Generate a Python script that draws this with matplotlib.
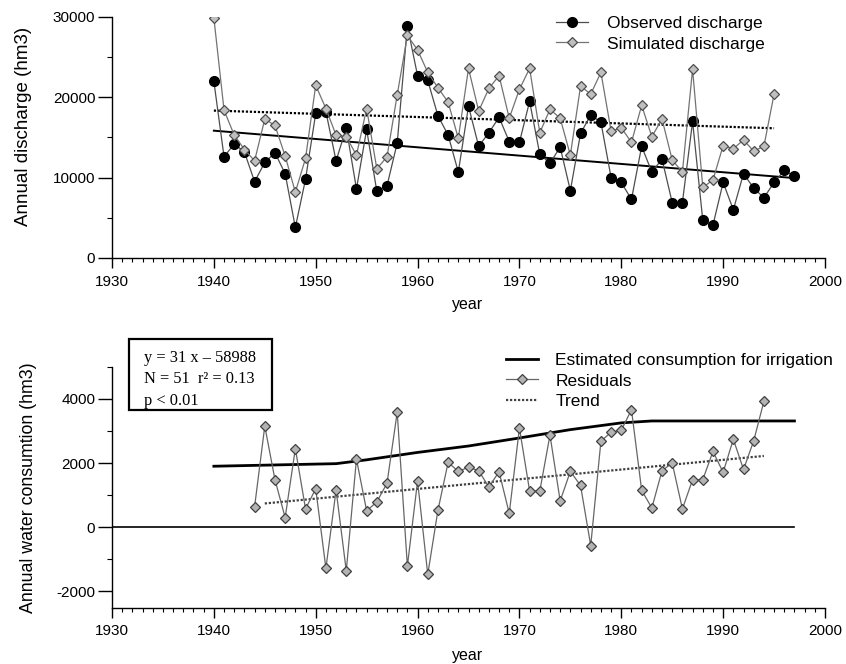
import matplotlib
matplotlib.use('Agg')
import matplotlib.pyplot as plt
import numpy as np
from matplotlib.patches import Rectangle
from matplotlib.ticker import MultipleLocator, FixedLocator

plt.rcParams['font.family'] = ['Liberation Sans', 'DejaVu Sans']
plt.rcParams['axes.unicode_minus'] = False

# --- datos panel superior (caudal anual, hm3) ---
anios_obs = np.arange(1940, 1998)
caudal_obs = [22000, 12600, 14200, 13200, 9500, 11900, 13100, 10500, 3800, 9800,
              18000, 18200, 12100, 16200, 8600, 16000, 8300, 9000, 14300, 28900,
              22700, 22100, 17700, 15300, 10700, 18900, 13900, 15600, 17500, 14500,
              14400, 19500, 12900, 11800, 13800, 8400, 15500, 17800, 16900, 10000,
              9400, 7300, 13900, 10700, 12300, 6900, 6900, 17000, 4700, 4100,
              9400, 6000, 10500, 8700, 7500, 9400, 10900, 10200]

anios_sim = np.arange(1940, 1996)
caudal_sim = [29900, 18400, 15300, 13500, 12100, 17300, 16500, 12700, 8200, 12400,
              21500, 18600, 15300, 15100, 12800, 18600, 11100, 12600, 20300, 27700,
              25900, 23100, 21200, 19400, 14900, 23600, 18300, 21100, 22700, 17400,
              21000, 23600, 15600, 18500, 17400, 12800, 21400, 20400, 23100, 15800,
              16200, 14400, 19000, 15100, 17300, 12200, 10700, 23500, 8800, 9700,
              14000, 13600, 14700, 13300, 13900, 20400]

# extremos de las rectas de tendencia
tend_obs_x = [1940, 1997]
tend_obs_y = [15850, 9950]
tend_sim_x = [1940, 1995]
tend_sim_y = [18350, 16150]

# --- datos panel inferior (consumo de agua, hm3) ---
anios_res = np.arange(1944, 1995)
residuos = [640, 3150, 1480, 300, 2450, 570, 1200, -1280, 1160, -1360,
            2120, 510, 790, 1370, 3580, -1210, 1440, -1470, 530, 2020,
            1740, 1870, 1760, 1250, 1730, 430, 3090, 1130, 1130, 2870,
            820, 1740, 1300, -570, 2680, 2960, 3020, 3660, 1150, 600,
            1760, 2000, 570, 1480, 1480, 2360, 1710, 2740, 1800, 2690, 3920]

anios_cons = [1940, 1952, 1955, 1960, 1965, 1970, 1975, 1980, 1983, 1997]
consumo = [1900, 1980, 2100, 2330, 2530, 2780, 3040, 3250, 3310, 3310]

tend_res_x = [1945, 1994]
tend_res_y = [740, 2220]

cero_x = [1930, 1997]
cero_y = [0, 0]

fig = plt.figure(figsize=(8.46, 6.64), dpi=100)
W, H = 846.0, 664.0

ax1 = fig.add_axes([112/W, 1-258/H, (825-112)/W, (258-17)/H])
ax2 = fig.add_axes([112/W, 1-607.5/H, (825-112)/W, (607.5-366.7)/H])

for ax in (ax1, ax2):
    ax.spines['top'].set_visible(False)
    ax.spines['right'].set_visible(False)
    ax.spines['left'].set_linewidth(1.0)
    ax.spines['bottom'].set_linewidth(1.0)
    ax.set_xlim(1930, 2000)
    ax.xaxis.set_major_locator(MultipleLocator(10))
    ax.xaxis.set_minor_locator(MultipleLocator(1))
    ax.tick_params(axis='x', which='major', length=7, width=1, pad=5, labelsize=11)
    ax.tick_params(axis='x', which='minor', length=3, width=0.8)
    ax.tick_params(axis='y', which='major', length=10, width=1, pad=2, labelsize=11)
    ax.tick_params(axis='y', which='minor', length=3.5, width=0.8)

# panel superior
ax1.plot(anios_obs, caudal_obs, color='0.3', lw=0.9, marker='o', ms=7,
         mfc='black', mec='black', label='Observed discharge', zorder=3)
ax1.plot(anios_sim, caudal_sim, color='0.45', lw=0.9, marker='D', ms=5.3,
         mfc='0.75', mec='0.3', mew=0.9, label='Simulated discharge', zorder=4)
ax1.plot(tend_obs_x, tend_obs_y, color='black', lw=1.4, zorder=2)
ax1.plot(tend_sim_x, tend_sim_y, color='black', lw=1.6, ls=(0, (1, 0.8)), zorder=2)

ax1.set_ylim(0, 30000)
ax1.yaxis.set_major_locator(MultipleLocator(10000))
ax1.yaxis.set_minor_locator(FixedLocator([5000, 15000, 25000]))
ax1.set_ylabel('Annual discharge (hm3)', fontsize=13.5)
ax1.yaxis.set_label_coords(-0.112, 0.545)
ax1.set_xlabel('year', fontsize=11.5, va='top')
ax1.xaxis.set_label_coords(0.498, -0.163)

ax1.legend(loc='upper left', bbox_to_anchor=(556/W, 1-16/H), bbox_transform=fig.transFigure,
           frameon=False, fontsize=12.5, handlelength=1.85, handletextpad=1.1,
           labelspacing=0.3, borderpad=0, borderaxespad=0)

# panel inferior
ax2.plot(cero_x, cero_y, color='black', lw=1.2, zorder=2)
ax2.plot(anios_cons, consumo, color='black', lw=2.0, zorder=2,
         label='Estimated consumption for irrigation')
ax2.plot(anios_res, residuos, color='0.4', lw=0.9, marker='D', ms=5.3,
         mfc='0.7', mec='0.25', mew=0.9, label='Residuals', zorder=4)
ax2.plot(tend_res_x, tend_res_y, color='0.25', lw=1.6, ls=(0, (1, 0.8)),
         label='Trend', zorder=3)

ax2.set_ylim(-2500, 5000)
ax2.yaxis.set_major_locator(FixedLocator([-2000, 0, 2000, 4000]))
ax2.yaxis.set_minor_locator(FixedLocator([-1000, 1000, 3000, 5000]))
ax2.set_ylabel('Annual water consumtion (hm3)', fontsize=12.8)
ax2.yaxis.set_label_coords(-0.105, 0.497)
ax2.set_xlabel('year', fontsize=11.5, va='top')
ax2.xaxis.set_label_coords(0.498, -0.168)

ax2.legend(loc='upper left', bbox_to_anchor=(506/W, 1-353/H), bbox_transform=fig.transFigure,
           frameon=False, fontsize=12.5, handlelength=1.85, handletextpad=1.0,
           labelspacing=0.3, borderpad=0, borderaxespad=0)

# recuadro con la regresion
fig.patches.append(Rectangle((129/W, 1-410/H), 143/W, 71/H, transform=fig.transFigure,
                             fill=False, edgecolor='black', lw=1.6))
fig.text(144/W, 1-350/H, 'y = 31 x \u2013 58988\nN = 51  r\u00b2 = 0.13\np < 0.01',
         family=['Liberation Serif', 'DejaVu Serif'], fontsize=11.8, va='top', ha='left',
         linespacing=1.45)

plt.savefig('out.png', dpi=100)
